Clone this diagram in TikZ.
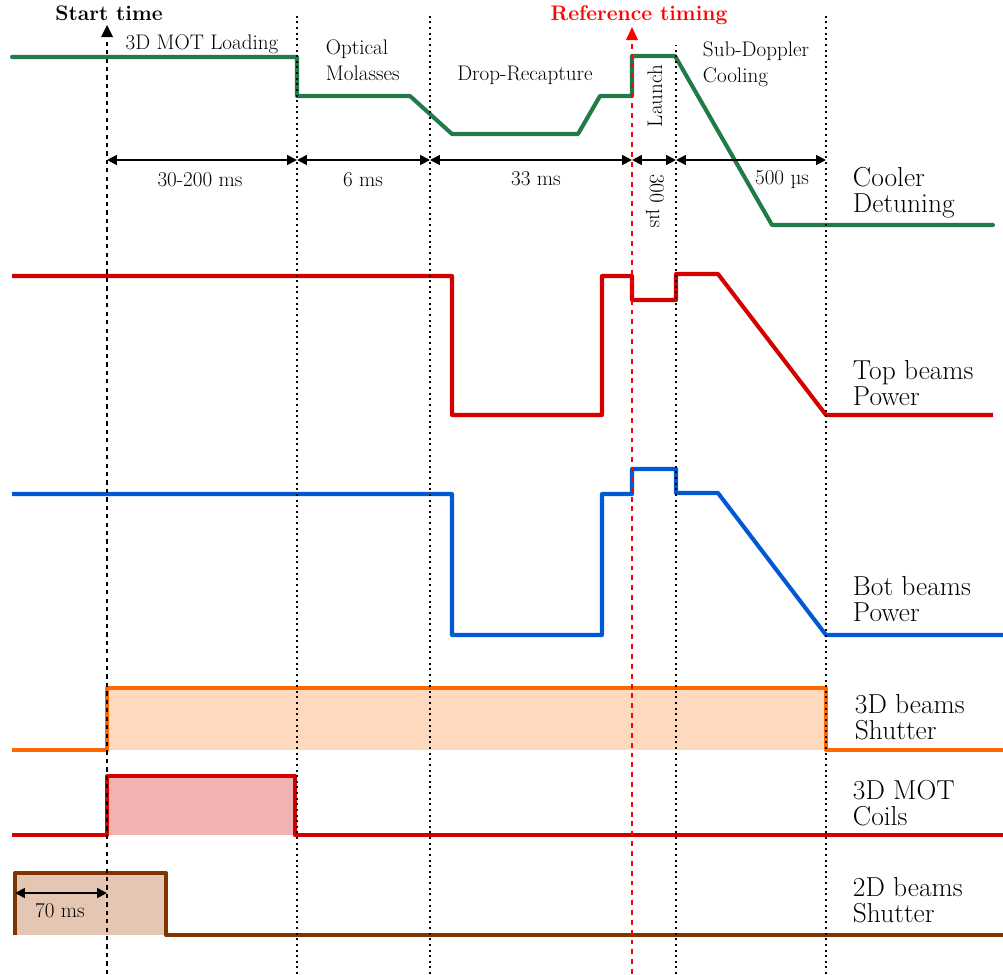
\documentclass[tikz,border=0pt]{standalone}
\usepackage[usenames,dvipsnames,svgnames,table]{xcolor}
\usepackage{tikz}
\usetikzlibrary{arrows.meta}

\definecolor{coolergreen}{RGB}{34,122,72}
\definecolor{topred}{RGB}{212,0,0}
\definecolor{botblue}{RGB}{0,88,212}
\definecolor{shutorange}{RGB}{255,104,0}
\definecolor{shutfill}{RGB}{255,217,190}
\definecolor{coilfill}{RGB}{241,178,178}
\definecolor{twodbrown}{RGB}{128,52,0}
\definecolor{twodfill}{RGB}{229,198,178}
\definecolor{refred}{RGB}{255,0,0}

\begin{document}
\begin{tikzpicture}[x=0.025cm,y=-0.025cm,
  trace/.style={line width=2.9pt,line join=round},
  dimarrow/.style={line width=1.3pt,{Triangle[length=7pt,width=7pt]}-{Triangle[length=7pt,width=7pt]}},
  marker/.style={black,line width=1.4pt,dash pattern=on 1.4pt off 2.6pt},
  small/.style={text=black,font=\fontsize{15}{17.8}\selectfont},
  big/.style={text=black,font=\fontsize{19.5}{17.8}\selectfont,align=left,anchor=base west}]

\useasboundingbox (0,0) rectangle (1003,974);

% time markers:
\coordinate (startTop) at (107,30);
\coordinate (startBot) at (107,974);
\coordinate (molTop) at (297,15);
\coordinate (molBot) at (297,974);
\coordinate (dropTop) at (430,15);
\coordinate (dropBot) at (430,974);
\coordinate (refTop) at (632,30);
\coordinate (refBot) at (632,974);
\coordinate (subTop) at (676,45);
\coordinate (subBot) at (676,974);
\coordinate (endTop) at (826,15);
\coordinate (endBot) at (826,974);

% dimension points:
\coordinate (d0) at (107,160);
\coordinate (d1) at (297,160);
\coordinate (d2) at (430,160);
\coordinate (d3) at (632,160);
\coordinate (d4) at (676,160);
\coordinate (d5) at (826,160);
\coordinate (t2dL) at (15,893);
\coordinate (t2dR) at (107,893);

% fills:
\fill[shutfill] (107,688) rectangle (826,750);
\fill[coilfill] (107,776) rectangle (295,835);
\fill[twodfill] (15,873) rectangle (166,935);

% cooler detuning:
\draw[trace,coolergreen,line cap=round] (12,57) -- (297,57) -- (297,96) -- (410,96) -- (452,134) -- (578,134) -- (600,96) -- (632,96) -- (632,56) -- (675,56) -- (772,225) -- (993,225);

% top beams power:
\draw[trace,topred] (12,276) -- (452,276) -- (452,415) -- (602,415) -- (602,276) -- (632,276) -- (632,300) -- (676,300) -- (676,274) -- (718,274) -- (826,415) -- (993,415);

% bot beams power:
\draw[trace,botblue] (12,494) -- (452,494) -- (452,635) -- (602,635) -- (602,494) -- (632,494) -- (632,469) -- (676,469) -- (676,493) -- (718,493) -- (826,635) -- (1003,635);

% 3D beams shutter:
\draw[trace,shutorange] (12,750) -- (107,750) -- (107,688) -- (826,688) -- (826,750) -- (1003,750);

% 3D MOT coils:
\draw[trace,topred] (12,835) -- (107,835) -- (107,776) -- (295,776) -- (295,835) -- (1003,835);

% 2D beams shutter:
\draw[trace,twodbrown] (15,935) -- (15,873) -- (166,873) -- (166,935) -- (1003,935);

% vertical markers:
\draw[black,line width=2pt,dash pattern=on 3pt off 3pt] (startBot) -- (startTop);
\fill[black] (101,37) -- (113,37) -- (107,25) -- cycle;
\draw[marker] (molBot) -- (molTop);
\draw[marker] (dropBot) -- (dropTop);
\draw[marker] (subBot) -- (subTop);
\draw[marker] (endBot) -- (endTop);
\draw[refred,line width=2pt,dash pattern=on 3.5pt off 3.5pt] (refBot) -- (refTop);
\fill[refred] (626,40) -- (638,40) -- (632,27) -- cycle;

% durations:
\draw[dimarrow] (d0) -- (d1);
\draw[dimarrow] (d1) -- (d2);
\draw[dimarrow] (d2) -- (d3);
\draw[dimarrow] (d3) -- (d4);
\draw[dimarrow] (d4) -- (d5);
\draw[dimarrow] (t2dL) -- (t2dR);

\path (200,186) node[small,anchor=base] (durLoad) {30-200 ms};
\path (363,186) node[small,anchor=base] (durMol) {6 ms};
\path (536,185) node[small,anchor=base] (durDrop) {33 ms};
\path (655,201) node[small,rotate=-90] (durLaunch) {300 \textmu s};
\path (782,184) node[small,anchor=base] (durSub) {500 \textmu s};
\path (60,917) node[small,anchor=base] (dur2D) {70 ms};

% phases:
\path (109,20) node[small,anchor=base,font=\fontsize{15}{16}\selectfont\bfseries] (lblStart) {Start time};
\path (639,20) node[small,anchor=base,text=refred,font=\fontsize{15}{16}\selectfont\bfseries] (lblRef) {Reference timing};
\path (202,49) node[small,anchor=base] (lblLoad) {3D MOT Loading};
\path (321,80) node[small,anchor=base west,align=left] (lblMol) {Optical\\Molasses};
\path (525,80) node[small,anchor=base] (lblDrop) {Drop-Recapture};
\path (655,96) node[small,rotate=90] (lblLaunch) {Launch};
\path (698,82) node[small,anchor=base west,align=left] (lblSub) {Sub-Doppler\\Cooling};

% channels:
\path (848,212) node[big] (chCooler) {Cooler\\Detuning};
\path (848,405) node[big] (chTop) {Top beams\\Power};
\path (848,621) node[big] (chBot) {Bot beams\\Power};
\path (850,739) node[big] (ch3D) {3D beams\\Shutter};
\path (848,825) node[big] (chCoils) {3D MOT\\Coils};
\path (848,922) node[big] (ch2D) {2D beams\\Shutter};

\end{tikzpicture}
\end{document}
